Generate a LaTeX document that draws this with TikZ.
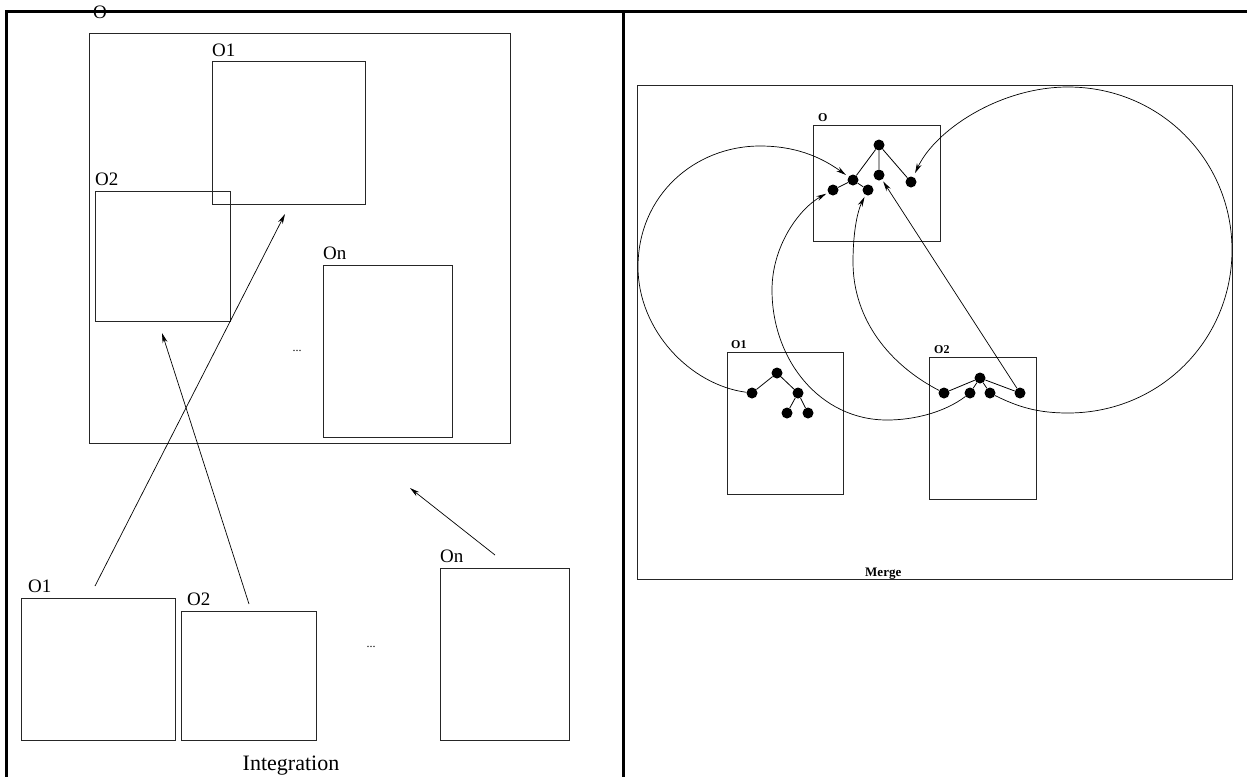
\documentclass[tikz,border=0pt]{standalone}
\usepackage{fontspec}
\setmainfont{Liberation Serif}
\usetikzlibrary{arrows.meta}
\begin{document}
\begin{tikzpicture}[x=1pt,y=-1pt,
  box/.style={draw=black!85,line width=0.9pt,inner sep=0,fill=none},
  lbl/.style={anchor=base west,inner sep=0,font=\fontsize{19}{21}\selectfont},
  mlbl/.style={anchor=base west,inner sep=0,font=\fontsize{12}{14}\selectfont\bfseries},
  dots/.style={anchor=base,inner sep=0,font=\fontsize{12}{13}\selectfont},
  frame/.style={line width=3pt},
  tip/.style={-{Stealth[length=10pt,width=5pt]},line width=0.7pt},
  curve/.style={line width=0.7pt},
  dot/.style={circle,fill=black,inner sep=0,minimum size=11pt},
  edge/.style={line width=0.8pt}]
\useasboundingbox (0,0) rectangle (1247,777);

% ---------- Integration ----------
\node[lbl] (lO) at (93,18) {O};
\node[box,minimum width=421,minimum height=410] (bigO) at (299.5,238) {};
\node[lbl] (lO1) at (212,56) {O1};
\node[box,minimum width=153,minimum height=143] (inO1) at (288.5,132.5) {};
\node[lbl] (lO2) at (95,185) {O2};
\node[box,minimum width=135,minimum height=130] (inO2) at (162.5,256) {};
\node[lbl] (lOn) at (323,259) {On};
\node[box,minimum width=129,minimum height=172] (inOn) at (387.5,351) {};
\node[dots] (d1) at (297,351) {...};

\node[lbl] (sO1l) at (28,592) {O1};
\node[box,minimum width=154,minimum height=142] (srcO1) at (98,669) {};
\node[lbl] (sO2l) at (187,605) {O2};
\node[box,minimum width=135,minimum height=129] (srcO2) at (248.5,675.5) {};
\node[lbl] (sOnl) at (440,562) {On};
\node[box,minimum width=129,minimum height=172] (srcOn) at (504.5,654) {};
\node[dots] (d2) at (371,647) {...};
\node[anchor=base,inner sep=0,font=\fontsize{22}{24}\selectfont] (integ) at (291,770) {Integration};

\coordinate (t1) at (95,586);   \coordinate (h1) at (285,214);
\coordinate (t2) at (249,604);  \coordinate (h2) at (162,333);
\coordinate (t3) at (495,555);  \coordinate (h3) at (410,488);
\draw[tip] (t1) -- (h1);
\draw[tip] (t2) -- (h2);
\draw[tip] (t3) -- (h3);

% ---------- Merge ----------
\node[box,minimum width=595,minimum height=494] (merge) at (934.5,332) {};
\node[mlbl,font=\fontsize{13}{15}\selectfont\bfseries] (mrg) at (865,576) {Merge};

\node[mlbl] (mOl) at (818,121) {O};
\node[box,minimum width=127,minimum height=116] (mO) at (876.5,183) {};
\node[mlbl] (mO1l) at (731,348) {O1};
\node[box,minimum width=116,minimum height=142] (mO1) at (785,423) {};
\node[mlbl] (mO2l) at (934,353) {O2};
\node[box,minimum width=107,minimum height=142] (mO2) at (982.5,428) {};

% tree of O
\node[dot] (a0) at (879,145) {};
\node[dot] (a1) at (853,180) {};
\node[dot] (a2) at (833,190) {};
\node[dot] (a3) at (868,190) {};
\node[dot] (a4) at (879,175) {};
\node[dot] (a5) at (911,182) {};
\draw[edge] (a0) -- (a1) (a0) -- (a4) (a0) -- (a5) (a1) -- (a2) (a1) -- (a3);

% tree of O1
\node[dot] (b0) at (777,373) {};
\node[dot] (b1) at (752,393) {};
\node[dot] (b2) at (798,393) {};
\node[dot] (b3) at (787,413) {};
\node[dot] (b4) at (808,413) {};
\draw[edge] (b0) -- (b1) (b0) -- (b2) (b2) -- (b3) (b2) -- (b4);

% tree of O2
\node[dot] (c0) at (980,378) {};
\node[dot] (c1) at (944,393) {};
\node[dot] (c2) at (970,393) {};
\node[dot] (c3) at (990,393) {};
\node[dot] (c4) at (1020,393) {};
\draw[edge] (c0) -- (c1) (c0) -- (c2) (c0) -- (c3) (c0) -- (c4);

% correspondences
\draw[curve,tip,shorten >=3pt] (b1) .. controls (690,385) and (638,330) .. (638,267)
  .. controls (638,195) and (695,146) .. (760,146)
  .. controls (800,146) and (825,160) .. (a1);
\draw[curve,tip,shorten >=2pt] (c2) .. controls (945,412) and (915,420) .. (887,420)
  .. controls (820,420) and (772,360) .. (772,290)
  .. controls (772,245) and (800,208) .. (a2);
\draw[curve,tip,shorten >=2pt] (c1) .. controls (890,365) and (853,320) .. (853,262)
  .. controls (853,230) and (858,210) .. (a3);
\draw[tip,shorten >=2pt] (c4) -- (a4);
\draw[curve,tip,shorten >=4pt] (c3) .. controls (1020,408) and (1040,413) .. (1068,413)
  .. controls (1160,413) and (1232,340) .. (1232,250)
  .. controls (1232,160) and (1160,87) .. (1068,87)
  .. controls (1000,87) and (935,130) .. (a5);

% ---------- table rules ----------
\draw[frame] (5,11) -- (1247,11);
\draw[frame] (6,11) -- (6,777);
\draw[frame] (623,11) -- (623,777);
\end{tikzpicture}
\end{document}
